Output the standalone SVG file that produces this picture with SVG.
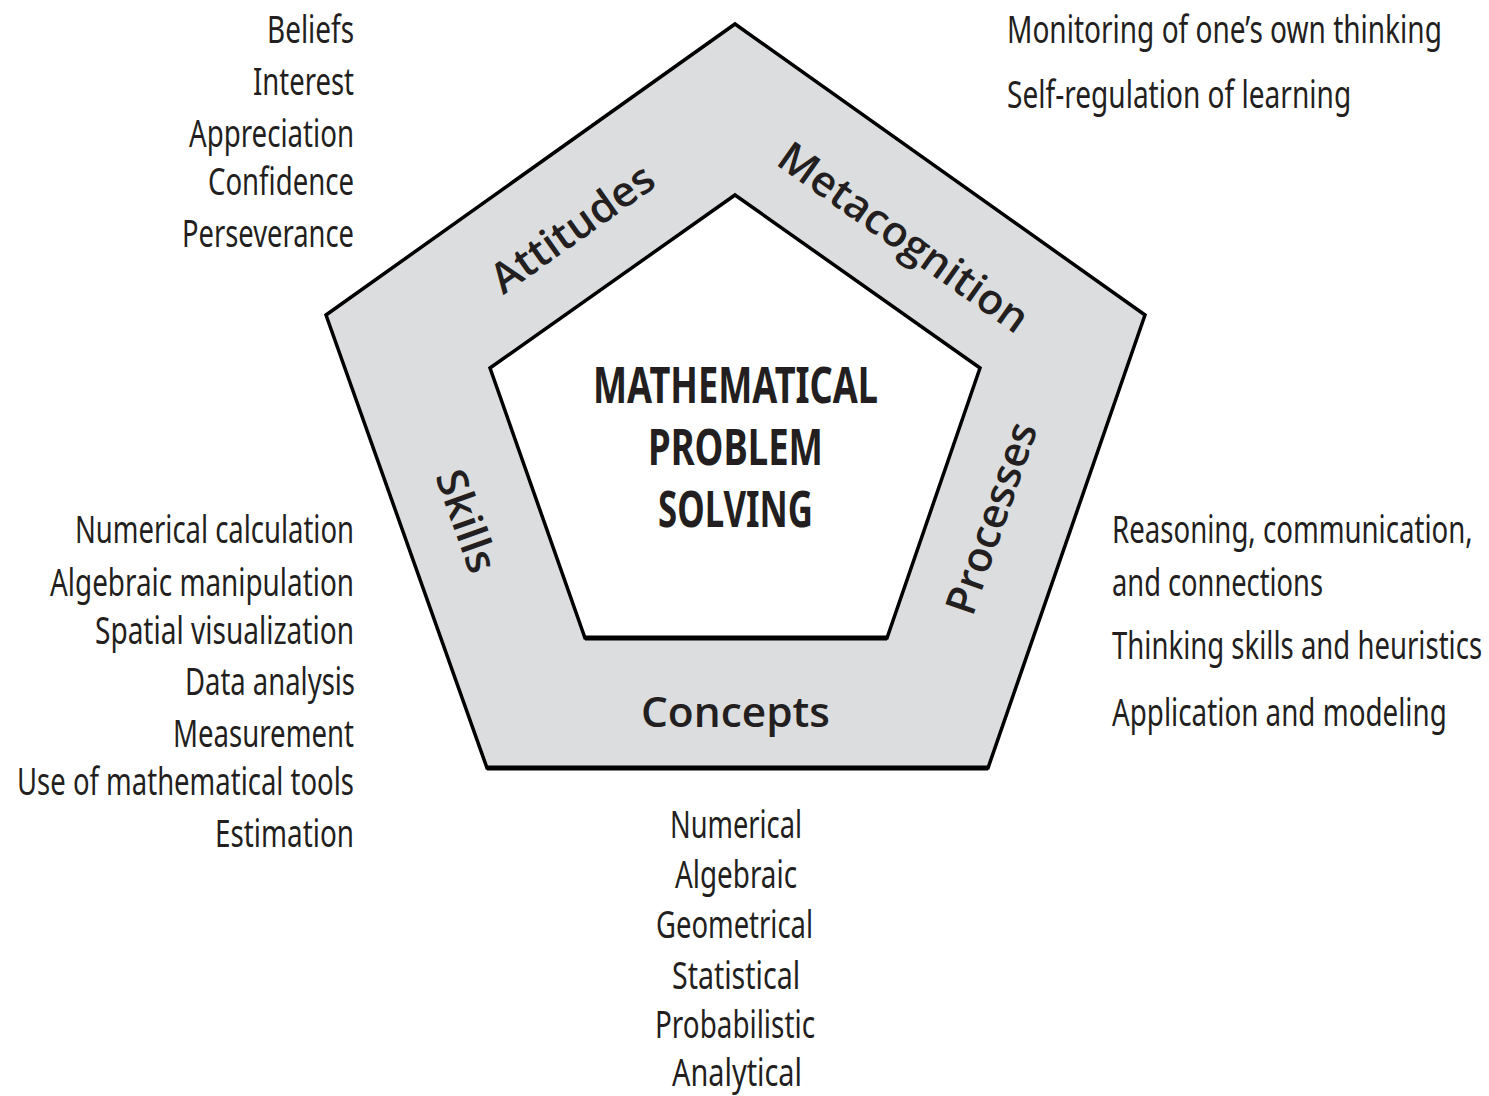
<svg xmlns="http://www.w3.org/2000/svg" width="1489" height="1096" viewBox="0 0 1489 1096">
<style>
.lst{font-family:"Noto Sans","Liberation Sans",sans-serif;font-size:38px;fill:#231f20}
.ring{font-family:"Open Sans","Liberation Sans",sans-serif;font-weight:600;font-size:42px;fill:#231f20}
.title{font-family:"Noto Sans","Liberation Sans",sans-serif;font-weight:700;font-size:50px;fill:#231f20}
</style>
<rect width="1489" height="1096" fill="#ffffff"/>
<g id="pentagon">
<polygon points="735,24 1145,315 988,768 487,768 326,315" fill="#dcdddf" stroke="#000" stroke-width="3.5" stroke-linejoin="miter"/>
<line x1="487" y1="768" x2="988" y2="768" stroke="#000" stroke-width="5"/>
<polygon points="735,195 980,368 887,638 585,638 490,368" fill="#ffffff" stroke="#000" stroke-width="3.5" stroke-linejoin="miter"/>
<line x1="585" y1="638" x2="887" y2="638" stroke="#000" stroke-width="5"/>
</g>
<g id="center">
<text class="title" x="593" y="403" textLength="285" lengthAdjust="spacingAndGlyphs">MATHEMATICAL</text>
<text class="title" x="648" y="465" textLength="175" lengthAdjust="spacingAndGlyphs">PROBLEM</text>
<text class="title" x="658" y="527" textLength="155" lengthAdjust="spacingAndGlyphs">SOLVING</text>
</g>
<g id="ring-labels">
<text class="ring" transform="translate(572,228) rotate(-35.4)" x="-95" y="15" textLength="190" lengthAdjust="spacingAndGlyphs">Attitudes</text>
<text class="ring" transform="translate(904,237) rotate(35.3)" x="-148" y="15" textLength="296" lengthAdjust="spacingAndGlyphs">Metacognition</text>
<text class="ring" transform="translate(991,518) rotate(-70.9)" x="-100" y="15" textLength="200" lengthAdjust="spacingAndGlyphs">Processes</text>
<text class="ring" transform="translate(467,521) rotate(70.4)" x="-53" y="15" textLength="106" lengthAdjust="spacingAndGlyphs">Skills</text>
<text class="ring" x="641" y="727" textLength="189" lengthAdjust="spacingAndGlyphs" font-size="44">Concepts</text>
</g>
<g id="attitudes-list">
<text class="lst" x="267" y="43" textLength="87" lengthAdjust="spacingAndGlyphs">Beliefs</text>
<text class="lst" x="253" y="95" textLength="101" lengthAdjust="spacingAndGlyphs">Interest</text>
<text class="lst" x="189" y="147" textLength="165" lengthAdjust="spacingAndGlyphs">Appreciation</text>
<text class="lst" x="208" y="195" textLength="146" lengthAdjust="spacingAndGlyphs">Confidence</text>
<text class="lst" x="182" y="247" textLength="172" lengthAdjust="spacingAndGlyphs">Perseverance</text>
</g>
<g id="metacognition-list">
<text class="lst" transform="translate(1007,43) scale(0.72,1)" x="0" y="0" textLength="604" lengthAdjust="spacingAndGlyphs">Monitoring of one’s own thinking</text>
<text class="lst" transform="translate(1007,108) scale(0.72,1)" x="0" y="0" textLength="478" lengthAdjust="spacingAndGlyphs">Self-regulation of learning</text>
</g>
<g id="skills-list">
<text class="lst" x="75" y="543" textLength="279" lengthAdjust="spacingAndGlyphs">Numerical calculation</text>
<text class="lst" x="50" y="596" textLength="304" lengthAdjust="spacingAndGlyphs">Algebraic manipulation</text>
<text class="lst" x="95" y="644" textLength="259" lengthAdjust="spacingAndGlyphs">Spatial visualization</text>
<text class="lst" x="185" y="695" textLength="170" lengthAdjust="spacingAndGlyphs">Data analysis</text>
<text class="lst" x="173" y="747" textLength="181" lengthAdjust="spacingAndGlyphs">Measurement</text>
<text class="lst" x="17" y="795" textLength="337" lengthAdjust="spacingAndGlyphs">Use of mathematical tools</text>
<text class="lst" x="215" y="847" textLength="139" lengthAdjust="spacingAndGlyphs">Estimation</text>
</g>
<g id="processes-list">
<text class="lst" transform="translate(1112,543) scale(0.72,1)" x="0" y="0" textLength="501" lengthAdjust="spacingAndGlyphs">Reasoning, communication,</text>
<text class="lst" transform="translate(1112,596) scale(0.72,1)" x="0" y="0" textLength="293" lengthAdjust="spacingAndGlyphs">and connections</text>
<text class="lst" transform="translate(1112,659) scale(0.72,1)" x="0" y="0" textLength="514" lengthAdjust="spacingAndGlyphs">Thinking skills and heuristics</text>
<text class="lst" transform="translate(1112,726) scale(0.72,1)" x="0" y="0" textLength="465" lengthAdjust="spacingAndGlyphs">Application and modeling</text>
</g>
<g id="concepts-list">
<text class="lst" x="670" y="838" textLength="132" lengthAdjust="spacingAndGlyphs">Numerical</text>
<text class="lst" x="675" y="888" textLength="122" lengthAdjust="spacingAndGlyphs">Algebraic</text>
<text class="lst" x="656" y="938" textLength="157" lengthAdjust="spacingAndGlyphs">Geometrical</text>
<text class="lst" x="672" y="989" textLength="128" lengthAdjust="spacingAndGlyphs">Statistical</text>
<text class="lst" x="655" y="1038" textLength="160" lengthAdjust="spacingAndGlyphs">Probabilistic</text>
<text class="lst" x="672" y="1086" textLength="130" lengthAdjust="spacingAndGlyphs">Analytical</text>
</g>
</svg>
